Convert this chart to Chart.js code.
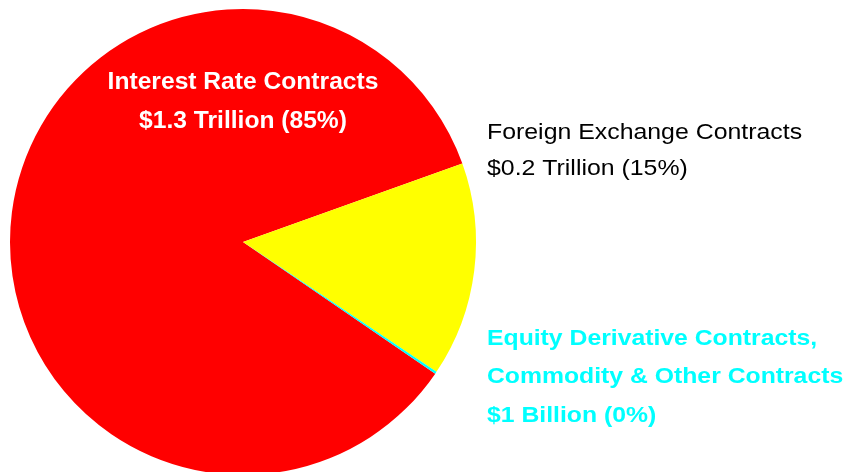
<!DOCTYPE html>
<html>
<head>
<meta charset="utf-8">
<script src="https://cdn.jsdelivr.net/npm/chart.js@4/dist/chart.umd.min.js"></script>
<style>
  html, body { margin: 0; padding: 0; background: #fff; overflow: hidden; }
  #wrap { width: 857px; height: 480px; position: relative; }
</style>
</head>
<body>
<div id="wrap"><canvas id="pieChart"></canvas></div>
<script>
// categorias e valores (participação em %)
var categorias = ['Interest Rate Contracts', 'Foreign Exchange Contracts', 'Equity Derivative Contracts, Commodity & Other Contracts'];
var participacao = [84.97, 14.88, 0.15];
var cores = ['#ff0000', '#ffff00', '#00ffff'];

// textos dos rótulos
var rotulos = [
    ['Interest Rate Contracts', '$1.3 Trillion (85%)'],
    ['Foreign Exchange Contracts', '$0.2 Trillion (15%)'],
    ['Equity Derivative Contracts,', 'Commodity & Other Contracts', '$1 Billion (0%)']
];

var fonte = '"Liberation Sans", Arial, sans-serif';

// texto levemente esticado na horizontal, como no original
function escreve(ctx, texto, x, y, esticar) {
    ctx.save();
    ctx.translate(x, y);
    ctx.scale(esticar, 1);
    ctx.fillText(texto, 0, 0);
    ctx.restore();
}

// plugin simples para escrever os rótulos
var rotulosPlugin = {
    id: 'rotulos',
    afterDraw: function (chart) {
        var ctx = chart.ctx;
        var arc = chart.getDatasetMeta(0).data[0];
        var cx = arc.x, cy = arc.y;
        ctx.save();
        ctx.textBaseline = 'alphabetic';

        // taxa de juros - branco, negrito, centralizado
        ctx.font = 'bold 23px ' + fonte;
        ctx.fillStyle = '#ffffff';
        ctx.textAlign = 'center';
        escreve(ctx, rotulos[0][0], cx, cy - 153, 1.07);
        escreve(ctx, rotulos[0][1], cx, cy - 114, 1.07);

        // câmbio - preto
        ctx.font = '22px ' + fonte;
        ctx.fillStyle = '#000000';
        ctx.textAlign = 'left';
        escreve(ctx, rotulos[1][0], cx + 244, cy - 103, 1.13);
        escreve(ctx, rotulos[1][1], cx + 244, cy - 67, 1.13);

        // ações / commodities - ciano, negrito
        ctx.font = 'bold 22px ' + fonte;
        ctx.fillStyle = cores[2];
        escreve(ctx, rotulos[2][0], cx + 244, cy + 103, 1.125);
        escreve(ctx, rotulos[2][1], cx + 244, cy + 141, 1.125);
        escreve(ctx, rotulos[2][2], cx + 244, cy + 180, 1.125);
        ctx.restore();
    }
};

var ctx = document.getElementById('pieChart').getContext('2d');

var pieChart = new Chart(ctx, {
    type: 'pie',
    data: {
        labels: categorias,
        datasets: [{
            data: participacao,
            backgroundColor: cores,
            borderWidth: 0
        }]
    },
    options: {
        responsive: true,
        maintainAspectRatio: false,
        animation: false,
        rotation: 124.4,
        layout: {
            padding: { left: 10, top: 9, right: 381, bottom: 5 }
        },
        plugins: {
            legend: { display: false },
            tooltip: { enabled: false }
        }
    },
    plugins: [rotulosPlugin]
});
</script>
</body>
</html>
